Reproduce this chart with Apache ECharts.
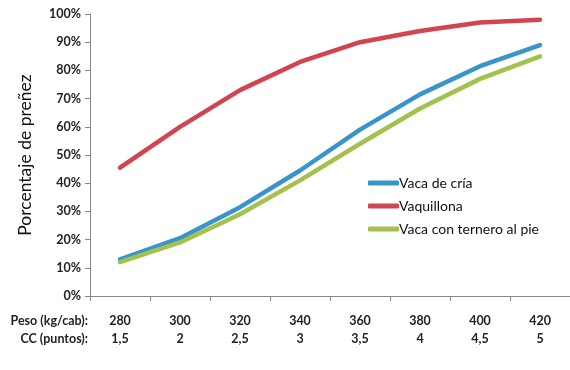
<!DOCTYPE html>
<html>
<head>
<meta charset="utf-8">
<script src="https://cdn.jsdelivr.net/npm/echarts@6/dist/echarts.min.js"></script>
<style>
  html, body { margin: 0; padding: 0; background: #fff; }
  #chart { width: 570px; height: 370px; }
</style>
</head>
<body>
<div id="chart"></div>
<script>
// Body weight (kg/head) and body condition score for each category
const peso = ['280', '300', '320', '340', '360', '380', '400', '420'];
const cc = ['1,5', '2', '2,5', '3', '3,5', '4', '4,5', '5'];
const rowHeaders = ['Peso (kg/cab):', 'CC (puntos):'];

// Pregnancy rate (%) per animal group
const vacaDeCria = [13, 20.5, 31.5, 44.5, 59, 71.5, 81.5, 89];
const vaquillona = [45.5, 60, 73, 83, 90, 94, 97, 98];
const vacaConTernero = [12, 19, 29, 41, 54, 66.5, 77, 85];

const seriesNames = ['Vaca de cría', 'Vaquillona', 'Vaca con ternero al pie'];
const colors = ['#3a94cc', '#d2444f', '#a2c24c'];

const FONT = 'Lato, "Open Sans", sans-serif';

const chart = echarts.init(document.getElementById('chart'));

function lineSeries(name, data, color) {
  return {
    name: name,
    type: 'line',
    data: data,
    symbol: 'none',
    smooth: false,
    lineStyle: { width: 4.5, color: color, cap: 'round', join: 'round' },
    itemStyle: { color: color },
    emphasis: { disabled: true }
  };
}

chart.setOption({
  animation: false,
  color: colors,
  grid: { left: 90, right: -6, top: 14, bottom: 74, containLabel: false },
  legend: {
    orient: 'vertical',
    left: 363,
    top: 171,
    itemGap: 9,
    itemWidth: 31,
    itemHeight: 5,
    icon: 'roundRect',
    data: seriesNames,
    textStyle: { fontFamily: FONT, fontSize: 14, color: '#111', padding: [0, 0, 0, -5] }
  },
  xAxis: {
    type: 'category',
    data: peso,
    boundaryGap: true,
    axisLine: { lineStyle: { color: '#888', width: 1 } },
    axisTick: { show: true, length: 5, inside: false, lineStyle: { color: '#888' } },
    axisLabel: {
      margin: 16,
      interval: 0,
      formatter: function (v, i) { return '{a|' + v + '}\n{a|' + cc[i] + '}'; },
      rich: {
        a: { fontFamily: FONT, fontSize: 12.5, fontWeight: 'bold', color: '#222', lineHeight: 18 }
      }
    },
    splitLine: { show: false }
  },
  yAxis: {
    type: 'value',
    min: 0,
    max: 100,
    interval: 10,
    name: 'Porcentaje de preñez',
    nameLocation: 'middle',
    nameGap: 56,
    nameTextStyle: { fontFamily: FONT, fontSize: 17.5, color: '#111' },
    axisLine: { show: true, lineStyle: { color: '#888', width: 1 } },
    axisTick: { show: true, length: 5, lineStyle: { color: '#888' } },
    axisLabel: {
      margin: 9,
      formatter: '{value}%',
      fontFamily: FONT, fontSize: 12.5, fontWeight: 'bold', color: '#222'
    },
    splitLine: { show: false }
  },
  graphic: [
    {
      type: 'text', right: 482, top: 314,
      style: { text: rowHeaders[0], font: 'bold 12.5px ' + FONT, fill: '#222', textAlign: 'right' }
    },
    {
      type: 'text', right: 482, top: 332,
      style: { text: rowHeaders[1], font: 'bold 12.5px ' + FONT, fill: '#222', textAlign: 'right' }
    }
  ],
  series: [
    lineSeries(seriesNames[0], vacaDeCria, colors[0]),
    lineSeries(seriesNames[1], vaquillona, colors[1]),
    lineSeries(seriesNames[2], vacaConTernero, colors[2])
  ]
});
</script>
</body>
</html>
